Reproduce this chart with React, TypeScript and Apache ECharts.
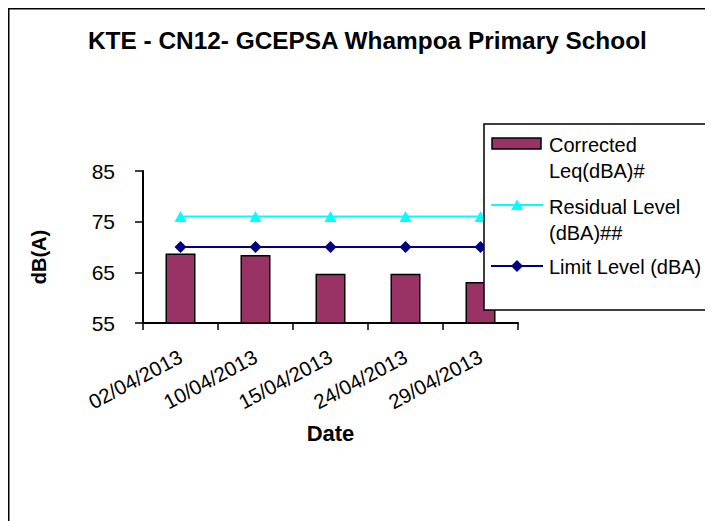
import React, { useEffect, useRef } from 'react';
import * as echarts from 'echarts';

const categories = ['02/04/2013', '10/04/2013', '15/04/2013', '24/04/2013', '29/04/2013'];
const correctedLeq = [68.7, 68.4, 64.7, 64.7, 63.1];
const residualLevel = [76, 76, 76, 76, 76];
const limitLevel = [70, 70, 70, 70, 70];
const yMin = 55;
const yMax = 85;
const yInterval = 10;
const seriesNames = ['Corrected Leq(dBA)#', 'Residual Level (dBA)##', 'Limit Level (dBA)'];
const legendLines = [['Corrected', 'Leq(dBA)#'], ['Residual Level', '(dBA)##'], ['Limit Level (dBA)']];

const FONT = 'Arial, "Liberation Sans", sans-serif';
const BAR_COLOR = '#993366';
const RES_COLOR = '#00FFFF';
const LIM_COLOR = '#000080';

export default function App() {
  const ref = useRef<HTMLDivElement>(null);
  useEffect(() => {
    document.documentElement.style.overflow = 'hidden';
    const chart = echarts.init(ref.current!, null, { renderer: 'svg' });

    const lx = 476, ly = 116, lw = 223, lh = 186;
    const tx = 541;
    const legendText = (text: string, y: number) => ({
      type: 'text', x: tx, y, z: 101,
      style: { text, fill: '#000', font: `20px ${FONT}`, verticalAlign: 'middle', align: 'left' },
    });

    chart.setOption({
      animation: false,
      textStyle: { fontFamily: FONT },
      title: {
        text: 'KTE - CN12- GCEPSA Whampoa Primary School',
        left: 80,
        top: 20,
        padding: 0,
        textStyle: { fontSize: 24.4, fontWeight: 'bold', color: '#000', fontFamily: FONT },
      },
      grid: { left: 135, top: 163, width: 375, height: 152, containLabel: false },
      xAxis: {
        type: 'category',
        data: categories,
        name: 'Date',
        nameLocation: 'middle',
        nameGap: 99,
        nameTextStyle: { fontSize: 22, fontWeight: 'bold', color: '#000' },
        axisLine: { lineStyle: { color: '#000', width: 2 } },
        axisTick: { show: true, length: 7, lineStyle: { color: '#000', width: 1.5 } },
        axisLabel: { rotate: 28, fontSize: 20.5, color: '#000', margin: 32, interval: 0 },
        splitLine: { show: false },
      },
      yAxis: {
        type: 'value',
        min: yMin,
        max: yMax,
        interval: yInterval,
        name: 'dB(A)',
        nameLocation: 'middle',
        nameGap: 94,
        nameTextStyle: { fontSize: 20, fontWeight: 'bold', color: '#000', padding: [0, 20, 0, 0] },
        axisLine: { show: true, lineStyle: { color: '#000', width: 2 } },
        axisTick: { show: true, length: 8, lineStyle: { color: '#000', width: 1.5 } },
        axisLabel: { fontSize: 21, color: '#000', margin: 28 },
        splitLine: { show: false },
      },
      series: [
        {
          name: seriesNames[0],
          type: 'bar',
          data: correctedLeq,
          barWidth: '40%',
          itemStyle: { color: BAR_COLOR, borderColor: '#000', borderWidth: 1.5 },
        },
        {
          name: seriesNames[1],
          type: 'line',
          data: residualLevel,
          symbol: 'triangle',
          symbolSize: [12, 11],
          lineStyle: { color: RES_COLOR, width: 2 },
          itemStyle: { color: RES_COLOR },
        },
        {
          name: seriesNames[2],
          type: 'line',
          data: limitLevel,
          symbol: 'diamond',
          symbolSize: [12, 12],
          lineStyle: { color: LIM_COLOR, width: 2 },
          itemStyle: { color: LIM_COLOR },
        },
      ],
      graphic: [
        { type: 'line', shape: { x1: 0.75, y1: 0, x2: 0.75, y2: 513 }, style: { stroke: '#000', lineWidth: 1.5 }, z: 100 },
        { type: 'line', shape: { x1: 0, y1: 0.75, x2: 705, y2: 0.75 }, style: { stroke: '#000', lineWidth: 1.5 }, z: 100 },
        { type: 'rect', shape: { x: lx, y: ly, width: lw, height: lh }, style: { fill: '#fff', stroke: '#000', lineWidth: 1.5 }, z: 100 },
        { type: 'rect', shape: { x: 484, y: 130, width: 49, height: 11 }, style: { fill: BAR_COLOR, stroke: '#000', lineWidth: 1.5 }, z: 101 },
        { type: 'line', shape: { x1: 483, y1: 197, x2: 535, y2: 197 }, style: { stroke: RES_COLOR, lineWidth: 2 }, z: 101 },
        { type: 'polygon', shape: { points: [[509, 191.5], [515, 202], [503, 202]] }, style: { fill: RES_COLOR }, z: 102 },
        { type: 'line', shape: { x1: 483, y1: 258, x2: 535, y2: 258 }, style: { stroke: LIM_COLOR, lineWidth: 2 }, z: 101 },
        { type: 'polygon', shape: { points: [[509, 252], [515, 258], [509, 264], [503, 258]] }, style: { fill: LIM_COLOR }, z: 102 },
        legendText(legendLines[0][0], 136.5),
        legendText(legendLines[0][1], 163),
        legendText(legendLines[1][0], 198.7),
        legendText(legendLines[1][1], 225),
        legendText(legendLines[2][0], 258.7),
      ],
    });
    return () => chart.dispose();
  }, []);
  return <div ref={ref} style={{ width: 705, height: 513 }} />;
}
